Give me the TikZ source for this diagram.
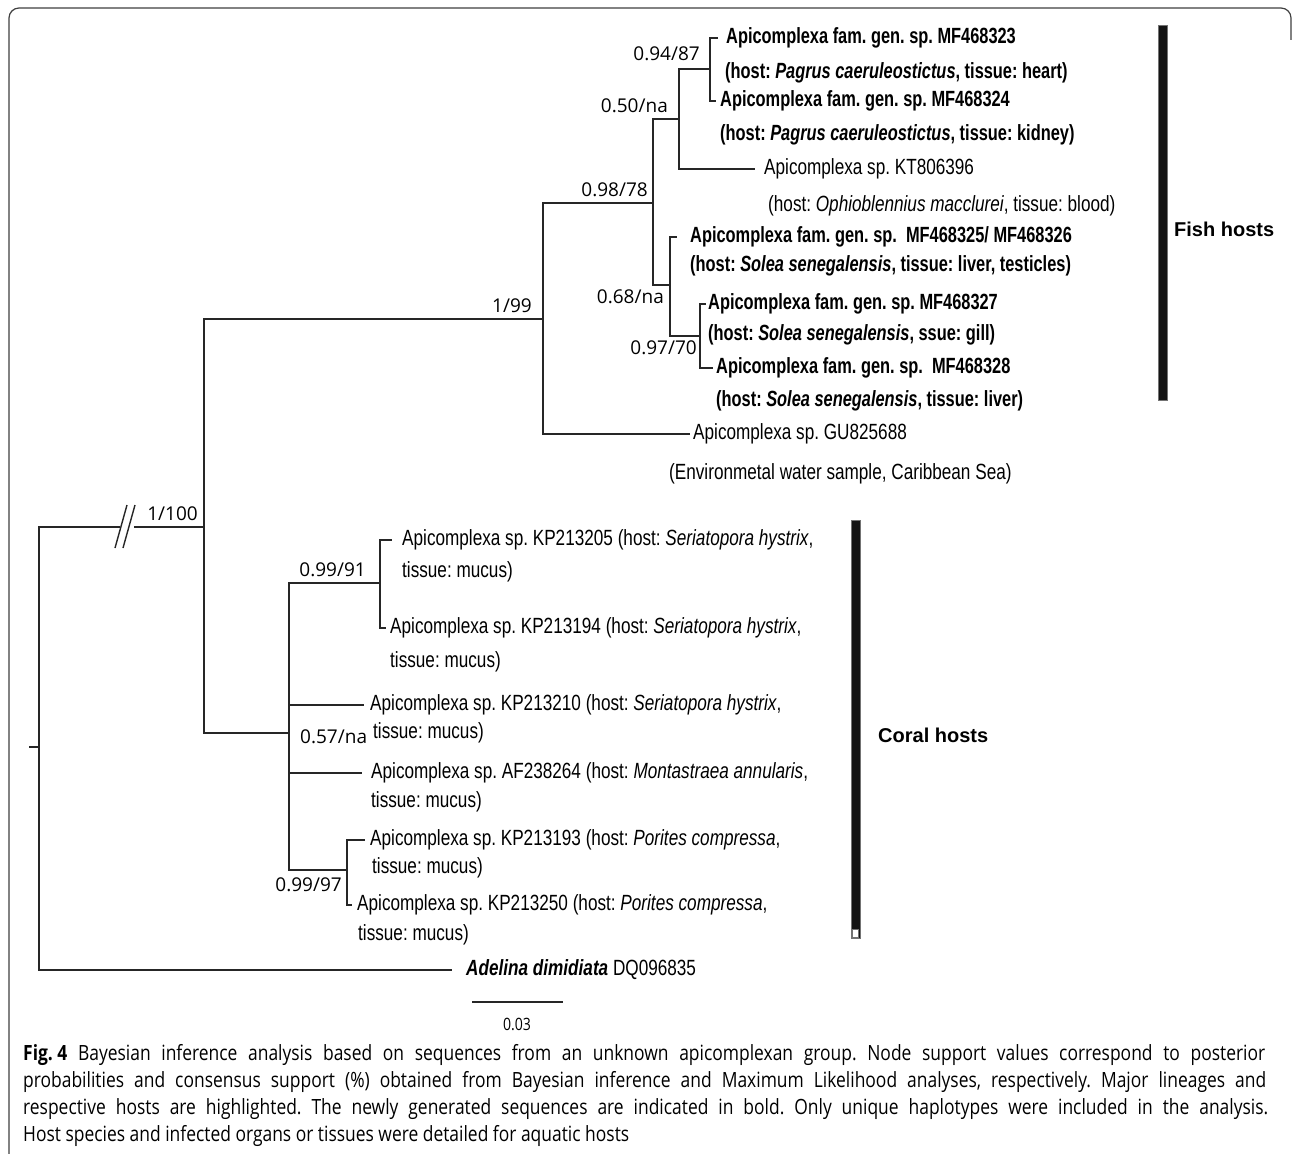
\documentclass[tikz,border=0pt]{standalone}
\usepackage{fontspec}
\setmainfont{Liberation Sans}
\newfontfamily\treefont[FakeStretch=0.78]{Liberation Sans}
\newfontfamily\newtreefont[FakeStretch=0.745]{Liberation Sans}
\newfontfamily\suppfont{Open Sans}
\newfontfamily\capfont[FakeStretch=0.83]{Open Sans}
\usetikzlibrary{positioning}
\frenchspacing

\tikzset{
  branch/.style={line width=1.4pt, black!85},
  leaf/.style={font=\treefont\fontsize{22}{26}\selectfont, inner sep=0pt,
    anchor=west, text height=15pt, text depth=4.5pt},
  newleaf/.style={leaf, font=\newtreefont\bfseries\fontsize{22}{26}\selectfont},
  support/.style={font=\suppfont\fontsize{19}{22}\selectfont, inner sep=0pt},
  hostbar/.style={fill=black!92, draw=black!55, line width=0.6pt},
  hostlabel/.style={font=\bfseries\fontsize{20}{24}\selectfont, inner sep=0pt, anchor=west},
  capline/.style={font=\capfont\fontsize{21}{24}\selectfont, inner sep=0pt, anchor=west},
}

\begin{document}
\begin{tikzpicture}[x=1pt, y=-1pt]
\useasboundingbox (0,0) rectangle (1292,1153);
\fill[white] (0,0) rectangle (1292,1153);
% frame
\draw[black!75, line width=1.2pt, rounded corners=10pt] (9,1160) -- (9,8) -- (1291,8) -- (1291,40);

% inner nodes of the tree
\coordinate (rootstub) at (29,747);
\coordinate (root) at (39,747);
\coordinate (brkL) at (120,527);
\coordinate (brkR) at (134,527);
\coordinate (nA) at (204,527);
\coordinate (nB) at (543,319);
\coordinate (nC) at (653,203);
\coordinate (nD) at (679,119);
\coordinate (nE) at (710,69);
\coordinate (nF) at (670,285);
\coordinate (nG) at (700,336);
\coordinate (nH) at (289,733);
\coordinate (nI) at (380,583);
\coordinate (nJ) at (347,870);

% tips
\coordinate (t323) at (718,38);
\coordinate (t324) at (716,101);
\coordinate (tKT) at (755,169);
\coordinate (t325) at (677,237);
\coordinate (t327) at (706,304);
\coordinate (t328) at (713,368);
\coordinate (tGU) at (690,434);
\coordinate (t205) at (392,540);
\coordinate (t194) at (386,628);
\coordinate (t210) at (364,705);
\coordinate (t264) at (362,773);
\coordinate (t193) at (365,840);
\coordinate (t250) at (352,905);
\coordinate (tAdel) at (452,970);

% branches
\draw[branch] (rootstub) -- (root);
\draw[branch] (root) |- (brkL);
\draw[branch] (brkR) -- (nA);
\draw[branch] (root) |- (tAdel);
\draw[branch] ([shift={(-5,21)}]brkL) -- ([shift={(7,-22)}]brkL);
\draw[branch] ([shift={(3,21)}]brkL) -- ([shift={(15,-22)}]brkL);
\foreach \p/\c in {nA/nB, nA/nH, nB/nC, nB/tGU, nC/nD, nC/nF, nD/nE, nD/tKT,
  nE/t323, nE/t324, nF/t325, nF/nG, nG/t327, nG/t328,
  nH/nI, nH/t210, nH/t264, nH/nJ, nI/t205, nI/t194, nJ/t193, nJ/t250}
  \draw[branch] (\p) |- (\c);

% support values
\node[support, above left=6pt and 6pt of nA] (s100) {1/100};
\node[support, above left=6pt and 11pt of nB] (s99) {1/99};
\node[support, above left=6pt and 5pt of nC] (s98) {0.98/78};
\node[support, above left=6pt and 11pt of nD] (s50) {0.50/na};
\node[support, above left=8pt and 10pt of nE] (s94) {0.94/87};
\node[support, below left=5pt and 6pt of nF] (s68) {0.68/na};
\node[support, below left=5pt and 3pt of nG] (s97) {0.97/70};
\node[support, above left=6pt and 14pt of nI] (s99b) {0.99/91};
\node[support, right=11pt of nH, yshift=-4pt] (s57) {0.57/na};
\node[support, below left=8pt and 5pt of nJ] (s99c) {0.99/97};

% fish sequences
\node[newleaf, right=8pt of t323] (l323) {Apicomplexa fam. gen. sp. MF468323};
\node[newleaf] (h323) at (725,73) {(host: \textit{Pagrus caeruleostictus}, tissue: heart)};
\node[newleaf, right=4pt of t324] (l324) {Apicomplexa fam. gen. sp. MF468324};
\node[newleaf] (h324) at (720,135) {(host: \textit{Pagrus caeruleostictus}, tissue: kidney)};
\node[leaf, right=9pt of tKT] (lKT) {Apicomplexa sp. KT806396};
\node[leaf] (hKT) at (768,206) {(host: \textit{Ophioblennius macclurei}, tissue: blood)};
\node[newleaf, right=13pt of t325] (l325) {Apicomplexa fam. gen. sp.\ \ MF468325/ MF468326};
\node[newleaf] (h325) at (690,266) {(host: \textit{Solea senegalensis}, tissue: liver, testicles)};
\node[newleaf, right=2pt of t327] (l327) {Apicomplexa fam. gen. sp. MF468327};
\node[newleaf] (h327) at (708,335) {(host: \textit{Solea senegalensis}, ssue: gill)};
\node[newleaf, right=3pt of t328] (l328) {Apicomplexa fam. gen. sp.\ \ MF468328};
\node[newleaf] (h328) at (716,401) {(host: \textit{Solea senegalensis}, tissue: liver)};
\node[leaf, right=3pt of tGU] (lGU) {Apicomplexa sp. GU825688};
\node[leaf] (hGU) at (669,474) {(Environmetal water sample, Caribbean Sea)};

% coral sequences
\node[leaf, right=10pt of t205] (l205) {Apicomplexa sp. KP213205 (host: \textit{Seriatopora hystrix},};
\node[leaf] (h205) at (402,572) {tissue: mucus)};
\node[leaf, right=4pt of t194] (l194) {Apicomplexa sp. KP213194 (host: \textit{Seriatopora hystrix},};
\node[leaf] (h194) at (390,662) {tissue: mucus)};
\node[leaf, right=6pt of t210] (l210) {Apicomplexa sp. KP213210 (host: \textit{Seriatopora hystrix},};
\node[leaf] (h210) at (373,733) {tissue: mucus)};
\node[leaf, right=9pt of t264] (l264) {Apicomplexa sp. AF238264 (host: \textit{Montastraea annularis},};
\node[leaf] (h264) at (371,802) {tissue: mucus)};
\node[leaf, right=5pt of t193] (l193) {Apicomplexa sp. KP213193 (host: \textit{Porites compressa},};
\node[leaf] (h193) at (372,868) {tissue: mucus)};
\node[leaf, right=5pt of t250] (l250) {Apicomplexa sp. KP213250 (host: \textit{Porites compressa},};
\node[leaf] (h250) at (358,935) {tissue: mucus)};

% outgroup
\node[leaf, right=14pt of tAdel] (lAdel) {\textbf{\textit{Adelina dimidiata}} DQ096835};

% host bars
\draw[hostbar] (1158,25) rectangle (1167,400);
\node[hostlabel] (fish) at (1174,229) {Fish hosts};
\draw[hostbar] (851,520) rectangle (860,938);
\draw[fill=white, draw=black!55, line width=0.6pt] (852.5,929) rectangle (858.5,937);
\node[hostlabel] (coral) at (878,735) {Coral hosts};

% scale bar
\coordinate (sbL) at (472,1002);
\coordinate (sbR) at (563,1002);
\draw[branch] (sbL) -- (sbR);
\node[capline, anchor=center, font=\capfont\fontsize{17}{19}\selectfont] (sbtext) at (517,1024) {0.03};

% caption
\node[capline] (cap1) at (23,1055) {\makebox[1242pt][s]{\hbox{\textbf{Fig. 4}} Bayesian inference analysis based on sequences from an unknown apicomplexan group. Node support values correspond to posterior}};
\node[capline] (cap2) at (23,1082) {\makebox[1243pt][s]{probabilities and consensus support (\%) obtained from Bayesian inference and Maximum Likelihood analyses, respectively. Major lineages and}};
\node[capline] (cap3) at (23,1109) {\makebox[1245pt][s]{respective hosts are highlighted. The newly generated sequences are indicated in bold. Only unique haplotypes were included in the analysis.}};
\node[capline] (cap4) at (23,1136) {Host species and infected organs or tissues were detailed for aquatic hosts};
\end{tikzpicture}
\end{document}
